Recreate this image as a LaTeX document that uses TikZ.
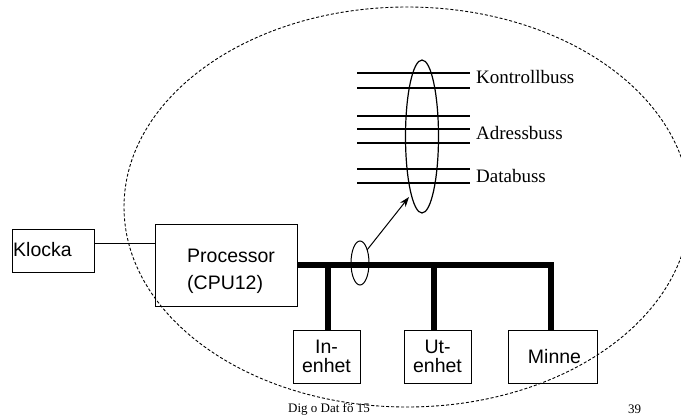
\documentclass[tikz,border=0pt]{standalone}
\usepackage{fontspec}
\setmainfont{Liberation Serif}
\setsansfont{Liberation Sans}
\usetikzlibrary{arrows.meta,shapes.geometric}
\begin{document}
\begin{tikzpicture}[x=1pt,y=-1pt,
  unit/.style={draw,line width=1pt,inner sep=0pt},
  stxt/.style={font=\fontsize{19.5}{19.5}\sffamily,inner sep=0pt,anchor=base},
  rtxt/.style={font=\fontsize{19}{19}\rmfamily,inner sep=0pt,anchor=base west},
  foot/.style={font=\fontsize{13}{13}\rmfamily,inner sep=0pt,anchor=base west},
  busline/.style={line width=1.2pt},
  mainbus/.style={line width=6.5pt,line join=miter},
  loop/.style={draw,ellipse,inner sep=0pt}]
\useasboundingbox (0,0) rectangle (681,416);

% system boundary
\draw[dashed,dash pattern=on 3pt off 2pt,line width=0.9pt] (407,207) ellipse [x radius=283,y radius=200];

% units
\node[unit,minimum width=82pt,minimum height=43pt] (klocka) at (53,250.5) {};
\node[unit,minimum width=142pt,minimum height=82pt] (cpu) at (226,265) {};
\node[unit,minimum width=67pt,minimum height=53pt] (in) at (326.5,356.5) {};
\node[unit,minimum width=67pt,minimum height=53pt] (ut) at (437.5,356.5) {};
\node[unit,minimum width=89pt,minimum height=53pt] (minne) at (552.5,356.5) {};

% unit labels
\node[stxt,anchor=base west] (tklocka) at (13,256) {Klocka};
\node[stxt,anchor=base west] (tcpu1) at (187,262) {Processor};
\node[stxt,anchor=base west] (tcpu2) at (187,289) {(CPU12)};
\node[stxt] (tin1) at (326.5,353) {In-};
\node[stxt] (tin2) at (326.5,372) {enhet};
\node[stxt] (tut1) at (437.5,353) {Ut-};
\node[stxt] (tut2) at (437.5,372) {enhet};
\node[stxt] (tminne) at (554.5,363) {Minne};

% clock line
\draw[line width=1pt] (klocka.east |- 0,243) -- (cpu.west |- 0,243);

% system bus
\coordinate (b1) at (328,265);
\coordinate (b2) at (434,265);
\coordinate (b3) at (551,265);
\draw[mainbus] (cpu.east |- b1) -- (b3) -- (b3 |- minne.north);
\draw[mainbus] (b1) -- (b1 |- in.north);
\draw[mainbus] (b2) -- (b2 |- ut.north);

% ring marking the system bus
\node[loop,line width=1pt,minimum width=18pt,minimum height=44pt] (ring) at (360,263) {};

% individual bus lines
\foreach \y/\n in {73/l1,88/l2,116/l3,129/l4,143/l5,169/l6,183/l7}{
  \coordinate (\n a) at (357,\y);
  \coordinate (\n b) at (470,\y);
  \draw[busline] (\n a) -- (\n b);
}
\node[loop,line width=1.2pt,minimum width=33pt,minimum height=153pt] (bundle) at (422,136.5) {};

% arrow from ring to the bundle of bus lines
\coordinate (ringtop) at (367,250);
\coordinate (bundletip) at (409,197);
\draw[line width=1pt,-{Stealth[length=10pt,width=7pt]}] (ringtop) -- (bundletip);

% bus names
\node[rtxt] (kb) at (476,83) {Kontrollbuss};
\node[rtxt] (ab) at (476,139) {Adressbuss};
\node[rtxt] (db) at (476,182) {Databuss};

% footer
\node[foot] (f1) at (288,412) {Dig o Dat fö 15};
\node[foot] (f2) at (628,413) {39};
\end{tikzpicture}
\end{document}
